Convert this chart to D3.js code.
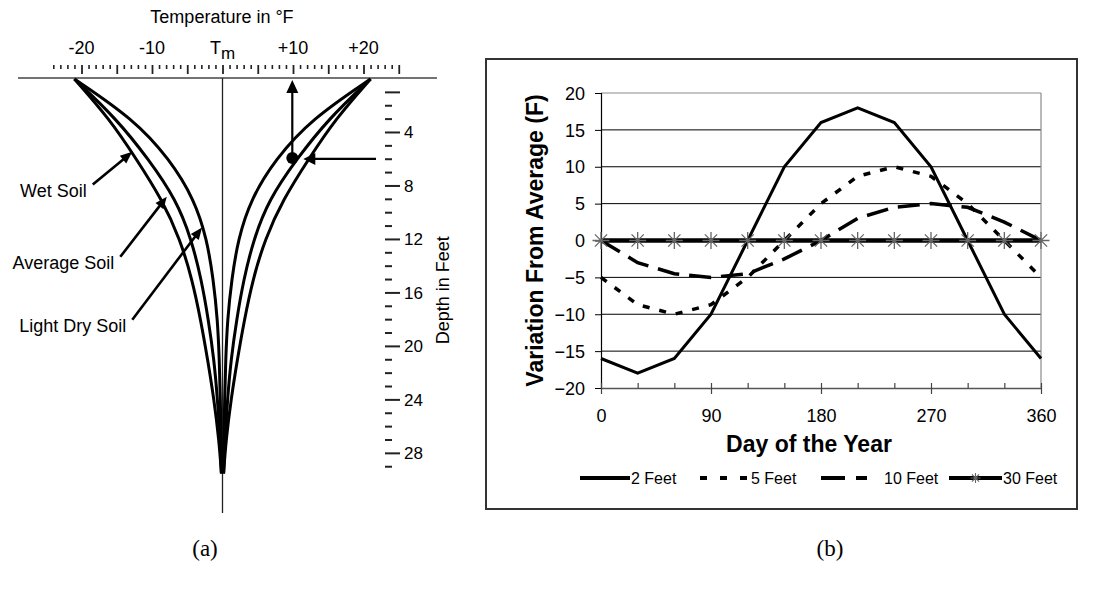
<!DOCTYPE html>
<html><head><meta charset="utf-8">
<script src="https://cdn.jsdelivr.net/npm/d3@7"></script>
<style>
html,body{margin:0;padding:0;background:#fff;}
svg{display:block;}
text{font-family:"Liberation Sans",Arial,Helvetica,sans-serif;fill:#000;}
</style></head><body>
<svg id="c" width="1096" height="594"></svg>
<script>
// ---------------- DATA: panel (a) ----------------
const tempTitle = "Temperature in °F";
const tempTickValues = [-20, -10, 0, 10, 20];
const tempTickLabels = ["-20", "-10", "Tm", "+10", "+20"];
const depthTitle = "Depth in Feet";
const depthLabelValues = [4, 8, 12, 16, 20, 24, 28];
const profileDepths = [0, 3, 6, 9, 12, 15, 18, 21, 24, 27, 29.5];
const wetSoil      = [21, 16.0, 12.2, 8.6, 6.0, 4.3, 3.1, 2.1, 1.2, 0.5, 0.15];
const averageSoil  = [21, 15.0, 10.5, 6.6, 4.4, 3.0, 2.0, 1.2, 0.7, 0.35, 0.15];
const lightDrySoil = [21, 12.6, 7.5, 4.0, 2.2, 1.3, 0.7, 0.45, 0.3, 0.2, 0.15];
const soilNames = ["Wet Soil", "Average Soil", "Light Dry Soil"];
// arrow annotations in data units (temperature °F, depth ft): tail -> tip
const soilArrowTail = [[-18.4, 7.9], [-14.5, 13.3], [-12.8, 18.0]];
const soilArrowTip  = [[-12.8, 5.45], [-7.9, 8.8], [-2.9, 11.1]];
const examplePoint = [9.9, 5.9]; // temp, depth

// ---------------- DATA: panel (b) ----------------
const days = [0, 30, 60, 90, 120, 150, 180, 210, 240, 270, 300, 330, 360];
const feet2  = [-16, -18, -16, -10, 0, 10, 16, 18, 16, 10, 0, -10, -16];
const feet5  = [-5, -8.7, -10, -8.7, -5, 0, 5, 8.7, 10, 8.7, 5, 0, -5];
const feet10 = [0, -3, -4.5, -5, -4.5, -2.5, 0, 3, 4.5, 5, 4.5, 2.5, 0];
const feet30 = [0, 0, 0, 0, 0, 0, 0, 0, 0, 0, 0, 0, 0];
const seriesNames = ["2 Feet", "5 Feet", "10 Feet", "30 Feet"];
const yTickValues = [-20, -15, -10, -5, 0, 5, 10, 15, 20];
const xTickValues = [0, 90, 180, 270, 360];
const xMinorValues = [0, 30, 60, 90, 120, 150, 180, 210, 240, 270, 300, 330, 360];
const yTitle = "Variation From Average (F)";
const xTitle = "Day of the Year";
const panelLabels = ["(a)", "(b)"];

const svg = d3.select("#c");

// ================= PANEL (a) =================
const xT = d3.scaleLinear().domain([-25, 25]).range([222.5 - 25 * 7.05, 222.5 + 25 * 7.05]);
const yD = d3.scaleLinear().domain([0, 30]).range([79, 79 + 30 * 13.37]);
const A = svg.append("g");

A.append("text").attr("x", 222).attr("y", 23).attr("text-anchor", "middle")
  .attr("font-size", 18).text(tempTitle);

tempTickValues.forEach((v, i) => {
  const lab = tempTickLabels[i];
  const t = A.append("text").attr("x", xT(v)).attr("y", 54).attr("text-anchor", "middle").attr("font-size", 18);
  if (lab === "Tm") {
    t.append("tspan").text("T");
    t.append("tspan").attr("dy", 5).attr("font-size", 17).text("m");
  } else t.text(lab);
});

// top ticks
const minorT = d3.range(-24, 26, 1);
A.append("g").attr("transform", "translate(0,65)")
  .call(d3.axisBottom(xT).tickValues(minorT.filter(v => v % 5 !== 0)).tickSize(4).tickFormat(""))
  .call(g => g.select(".domain").remove())
  .call(g => g.selectAll("line").attr("stroke", "#222").attr("stroke-width", 1.6));
A.append("g").attr("transform", "translate(0,65)")
  .call(d3.axisBottom(xT).tickValues(minorT.filter(v => v % 5 === 0)).tickSize(9).tickFormat(""))
  .call(g => g.select(".domain").remove())
  .call(g => g.selectAll("line").attr("stroke", "#222").attr("stroke-width", 1.8));

// horizontal surface line
A.append("line").attr("x1", 18).attr("x2", 437).attr("y1", yD(0) - 1).attr("y2", yD(0) - 1)
  .attr("stroke", "#444").attr("stroke-width", 1.6);
// Tm vertical line
A.append("line").attr("x1", xT(0)).attr("x2", xT(0)).attr("y1", yD(0) - 1).attr("y2", 513)
  .attr("stroke", "#222").attr("stroke-width", 1.3);

// depth ticks
const depthTicks = d3.range(1, 30, 1);
A.append("g").selectAll("line").data(depthTicks).join("line")
  .attr("x1", 385).attr("x2", d => (d % 4 === 0 || d === 1) ? 400 : 392)
  .attr("y1", d => yD(d)).attr("y2", d => yD(d))
  .attr("stroke", "#222").attr("stroke-width", 2);
A.append("g").selectAll("text").data(depthLabelValues).join("text")
  .attr("x", 404).attr("y", d => yD(d) + 6).attr("font-size", 17).text(d => d);
A.append("text").attr("transform", `translate(449,${yD(15.8)}) rotate(-90)`)
  .attr("text-anchor", "middle").attr("font-size", 18).text(depthTitle);

// soil curves
const curveLine = d3.line().x(d => xT(d[0])).y(d => yD(d[1])).curve(d3.curveBasis);
[wetSoil, averageSoil, lightDrySoil].forEach(amp => {
  [-1, 1].forEach(sgn => {
    const pts = profileDepths.map((d, i) => [sgn * amp[i], d]);
    A.append("path").attr("d", curveLine(pts)).attr("fill", "none")
      .attr("stroke", "#000").attr("stroke-width", 3);
  });
});

function arrow(g, x1, y1, x2, y2, len, w, sw) {
  const a = Math.atan2(y2 - y1, x2 - x1), c = Math.cos(a), s = Math.sin(a);
  const bx = x2 - len * c, by = y2 - len * s;
  g.append("line").attr("x1", x1).attr("y1", y1).attr("x2", bx + c).attr("y2", by + s)
    .attr("stroke", "#000").attr("stroke-width", sw);
  g.append("polygon").attr("points",
    `${x2},${y2} ${bx + w / 2 * s},${by - w / 2 * c} ${bx - w / 2 * s},${by + w / 2 * c}`)
    .attr("fill", "#000");
}

soilNames.forEach((name, i) => {
  const tx = xT(soilArrowTail[i][0]), ty = yD(soilArrowTail[i][1]);
  const hx = xT(soilArrowTip[i][0]), hy = yD(soilArrowTip[i][1]);
  arrow(A, tx, ty, hx, hy, 12, 10, 2.6);
  A.append("text").attr("x", tx - 6).attr("y", ty + 12).attr("text-anchor", "end")
    .attr("font-size", 18).text(name);
});

// example point with arrows
const px = xT(examplePoint[0]), py = yD(examplePoint[1]);
arrow(A, px, py, px, yD(0) + 1, 13, 12, 2.2);
arrow(A, 376, py + 1, px + 11, py + 1, 12, 12, 2.2);
A.append("circle").attr("cx", px).attr("cy", py).attr("r", 6).attr("fill", "#000");

// ================= PANEL (b) =================
const B = svg.append("g");
B.append("rect").attr("x", 486).attr("y", 59).attr("width", 591).attr("height", 450)
  .attr("fill", "none").attr("stroke", "#333").attr("stroke-width", 2);

const xS = d3.scaleLinear().domain([0, 360]).range([601, 1041]);
const yS = d3.scaleLinear().domain([-20, 20]).range([388, 93]);

// gridlines
B.append("g").selectAll("line").data(yTickValues.filter(v => v > -20)).join("line")
  .attr("x1", xS(0)).attr("x2", xS(360)).attr("y1", d => yS(d)).attr("y2", d => yS(d))
  .attr("stroke", d => d === 20 ? "#8a8a8a" : "#000").attr("stroke-width", 1);
B.append("line").attr("x1", xS(360)).attr("x2", xS(360)).attr("y1", yS(20)).attr("y2", yS(-20))
  .attr("stroke", "#8a8a8a").attr("stroke-width", 1.2);

// y axis
B.append("g").attr("transform", `translate(${xS(0)},0)`)
  .call(d3.axisLeft(yS).tickValues(yTickValues).tickSize(6).tickPadding(10).tickFormat(d3.format("d")))
  .call(g => g.select(".domain").attr("stroke", "#000").attr("stroke-width", 1.2))
  .call(g => g.selectAll("line").attr("stroke", "#000"))
  .call(g => g.selectAll("text").attr("font-size", 18).attr("font-family", "Liberation Sans, Arial, sans-serif").attr("dy", "0.34em"));

// x axis
B.append("g").attr("transform", `translate(0,${yS(-20)})`)
  .call(d3.axisTop(xS).tickValues(xMinorValues).tickSize(5).tickFormat(""))
  .call(g => g.select(".domain").remove())
  .call(g => g.selectAll("line").attr("stroke", "#444").attr("stroke-width", 1.2));
B.append("g").attr("transform", `translate(0,${yS(-20)})`)
  .call(d3.axisBottom(xS).tickValues(xTickValues).tickSize(6).tickPadding(15).tickSizeOuter(0))
  .call(g => g.select(".domain").attr("stroke", "#555").attr("stroke-width", 1.4))
  .call(g => g.selectAll("line").attr("stroke", "#444").attr("stroke-width", 1.2))
  .call(g => g.selectAll("text").attr("font-size", 18).attr("font-family", "Liberation Sans, Arial, sans-serif"));

// titles
B.append("text").attr("transform", `translate(543,${yS(0)}) rotate(-90)`)
  .attr("text-anchor", "middle").attr("font-size", 23).attr("font-weight", "bold").text(yTitle);
B.append("text").attr("x", 809).attr("y", 452).attr("text-anchor", "middle")
  .attr("font-size", 23).attr("font-weight", "bold").text(xTitle);

// series
const sLine = d3.line().x((d, i) => xS(days[i])).y(d => yS(d));
const styles = [
  { w: 3, dash: null },
  { w: 3.5, dash: "7,10" },
  { w: 3.5, dash: "22,10" },
  { w: 4.5, dash: null }
];
const seriesData = [feet2, feet5, feet10, feet30];
[3, 2, 1, 0].forEach(k => {
  B.append("path").attr("d", sLine(seriesData[k])).attr("fill", "none")
    .attr("stroke", "#000").attr("stroke-width", styles[k].w)
    .attr("stroke-dasharray", styles[k].dash);
});

function starPath(s) {
  const q = s * 0.72;
  return `M0,${-s}L0,${s}M${-q},${-q}L${q},${q}M${-q},${q}L${q},${-q}M${-s},0L${s},0`;
}
B.append("g").selectAll("path").data(feet30).join("path")
  .attr("transform", (d, i) => `translate(${xS(days[i])},${yS(d)})`)
  .attr("d", starPath(8.5)).attr("fill", "none").attr("stroke", "#666").attr("stroke-width", 1.3);

// legend
const legendLineX = [580, 700, 821, 949];
const legendLen = [50, 50, 46, 53];
const ly = 478;
seriesNames.forEach((name, k) => {
  const x0 = legendLineX[k];
  B.append("line").attr("x1", x0).attr("x2", x0 + legendLen[k]).attr("y1", ly).attr("y2", ly)
    .attr("stroke", "#000").attr("stroke-width", 4)
    .attr("stroke-dasharray", k === 1 ? "7,13" : (k === 2 ? "24,11" : null));
  if (k === 3) {
    B.append("path").attr("transform", `translate(${x0 + legendLen[k] / 2},${ly})`)
      .attr("d", starPath(5)).attr("fill", "none").attr("stroke", "#666").attr("stroke-width", 1.1);
  }
  B.append("text").attr("x", x0 + legendLen[k] + (k === 2 ? 17 : 1)).attr("y", ly + 6)
    .attr("font-size", 16).text(name);
});

// panel labels
svg.append("text").attr("x", 205).attr("y", 556).attr("text-anchor", "middle")
  .attr("font-size", 23).style("font-family", "Liberation Serif, Times New Roman, serif").text(panelLabels[0]);
svg.append("text").attr("x", 830).attr("y", 556).attr("text-anchor", "middle")
  .attr("font-size", 23).style("font-family", "Liberation Serif, Times New Roman, serif").text(panelLabels[1]);
</script>
</body></html>
